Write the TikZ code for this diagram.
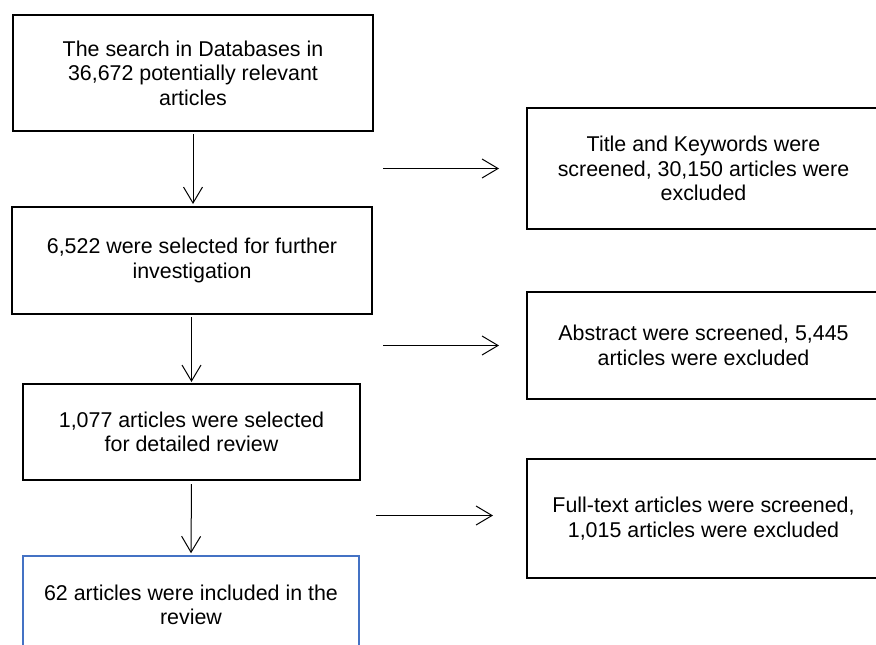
\documentclass[tikz,border=0pt]{standalone}
\usepackage{fontspec}
\setmainfont{Liberation Sans}
\usetikzlibrary{arrows.meta}
\definecolor{boxblue}{HTML}{4472C4}

\begin{document}
\begin{tikzpicture}[x=1pt,y=-1pt,
    arr/.style={-{Straight Barb[length=16pt,width=19pt]}, line width=1pt}]
\useasboundingbox (0,0) rectangle (876,645);
%\tikzstyle{box}=[rectangle,draw,line width=2pt]
\begin{scope}[every node/.style={rectangle,draw,line width=2pt,align=center,inner sep=0pt,
    font=\fontsize{21.4}{24.5}\selectfont}]
    \node[minimum width=360pt,minimum height=116pt] (a) at (193,73) {The search in Databases in\\36,672 potentially relevant\\articles};
    \node[minimum width=360pt,minimum height=107pt] (b) at (192,260.5) {6,522 were selected for further\\investigation};
    \node[minimum width=337pt,minimum height=96pt] (c) at (191.5,432) {1,077 articles were selected\\for detailed review};
    \node[draw=boxblue,line width=1.5pt,minimum width=336pt,minimum height=98pt] (d) at (191,605) {62 articles were included in the\\review};

    \node[minimum width=353pt,minimum height=121pt] (r1) at (703.5,168.5) {Title and Keywords were\\screened, 30,150 articles were\\excluded};
    \node[minimum width=353pt,minimum height=107pt] (r2) at (703.5,345.5) {Abstract were screened, 5,445\\articles were excluded};
    \node[minimum width=353pt,minimum height=119pt] (r3) at (703.5,518.5) {Full-text articles were screened,\\1,015 articles were excluded};
\end{scope}

    \path [arr] (a.south) edge[shorten <=2pt,shorten >=2pt] (a.south |- b.north);
    \path [arr] (c.north |- b.south) edge[shorten <=2pt,shorten >=1pt] (c.north);
    \path [arr] (c.south) edge[shorten <=3pt,shorten >=2pt] (d.north);

    \path [arr] (a.east |- r1.west) edge[shorten <=9pt,shorten >=27pt] (r1.west);
    \path [arr] (b.east |- r2.west) edge[shorten <=10pt,shorten >=27pt] (r2.west);
    \path [arr] ([yshift=3pt]c.east |- r3.west) edge[shorten <=15pt,shorten >=33pt] ([yshift=3pt]r3.west);
\end{tikzpicture}
\end{document}
